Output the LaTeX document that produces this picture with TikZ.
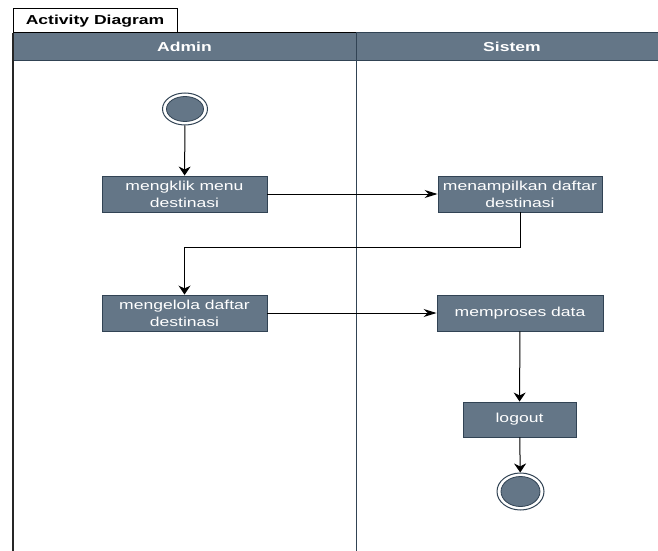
\documentclass[tikz,border=0pt]{standalone}
\usepackage{fontspec}
\setmainfont{Liberation Sans}[FakeStretch=1.35]
\usetikzlibrary{arrows.meta,shapes.geometric}

\definecolor{slate}{HTML}{647687}
\definecolor{slateline}{HTML}{314354}

\tikzset{
  action/.style={draw=slateline, fill=slate, text=white, line width=0.9pt,
    font=\fontsize{13}{17}\selectfont, align=center, inner sep=0pt,
    minimum height=36pt},
  lanehead/.style={draw=slateline, fill=slate, text=white, line width=1pt,
    font=\fontsize{13}{16}\selectfont\bfseries, inner sep=0pt, minimum height=28pt},
  ring/.style={ellipse, draw=slateline, fill=white, line width=1pt, inner sep=0pt},
  vflow/.style={draw=black, line width=1pt, -{Stealth[length=9pt,width=12pt]}},
  hflow/.style={draw=black, line width=1pt, -{Stealth[length=13pt,width=8pt]}},
}

\begin{document}
\begin{tikzpicture}[x=1pt, y=-1pt]
  \clip (0,0) rectangle (658,551);
  \fill[white] (0,0) rectangle (658,551);

  % pool title tab
  \node[draw=black, fill=white, line width=1pt, minimum width=164pt, minimum height=24pt,
        inner sep=0pt, font=\fontsize{13}{16}\selectfont\bfseries] (tab) at (95,21) {Activity Diagram};

  % swimlane headers
  \node[lanehead, minimum width=343pt] (adminhead) at (184.5,47) {Admin};
  \node[lanehead, minimum width=312pt] (sistemhead) at (512,47) {Sistem};
  \draw[black, line width=1pt] (13,33) -- (356,33);

  % lane borders
  \draw[black!85, line width=1.3pt] (13,33) -- (13,560);
  \draw[slateline, line width=1pt] (356,61) -- (356,560);

  % start and end states
  \node[ring, minimum width=45pt, minimum height=32pt,
        path picture={\filldraw[fill=slate, draw=slateline, line width=0.8pt]
          (path picture bounding box.center) ellipse [x radius=18.5pt, y radius=12.5pt];}]
        (start) at (185,109) {};
  \node[ring, minimum width=47pt, minimum height=37pt,
        path picture={\filldraw[fill=slate, draw=slateline, line width=0.8pt]
          (path picture bounding box.center) ellipse [x radius=19.5pt, y radius=15pt];}]
        (finish) at (520.5,491.5) {};

  % actions
  \node[action, minimum width=165pt] (klik) at (184.5,194) {mengklik menu\\destinasi};
  \node[action, minimum width=164pt] (tampil) at (520,194) {menampilkan daftar\\destinasi};
  \node[action, minimum width=165pt] (kelola) at (184.5,313) {mengelola daftar\\destinasi};
  \node[action, minimum width=166pt] (proses) at (520,313) {memproses data};
  \node[action, minimum width=113pt, minimum height=35pt] (logout) at (519.5,419.5) {logout};

  % control flow
  \coordinate (turn) at (184.5,247);
  \draw[vflow] (start) -- (klik);
  \draw[hflow] (klik) -- (tampil);
  \draw[vflow] (tampil.south) |- (turn) -- (kelola.north);
  \draw[hflow] (kelola) -- (proses);
  \draw[vflow] (proses) -- (logout);
  \draw[vflow] (logout) -- (finish);
\end{tikzpicture}
\end{document}
